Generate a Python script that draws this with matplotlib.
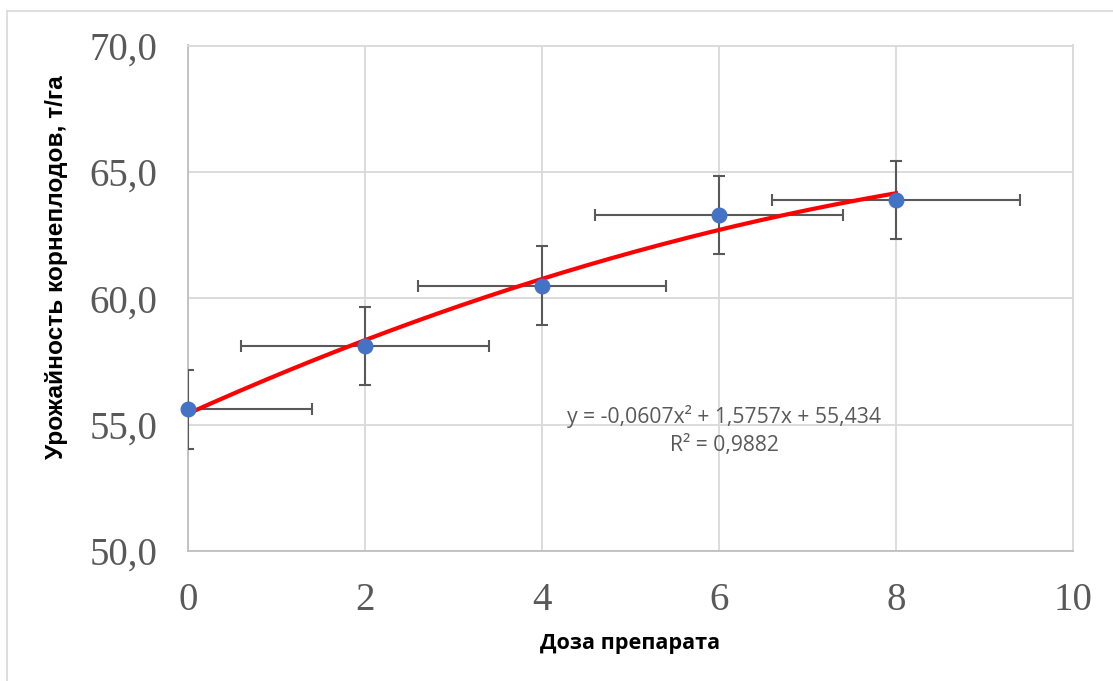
import numpy as np
import matplotlib
matplotlib.use("Agg")
import matplotlib.pyplot as plt
from matplotlib.lines import Line2D

# data
dose = [0, 2, 4, 6, 8]
yield_t = [55.6, 58.1, 60.5, 63.3, 63.9]
x_err = [1.4, 1.4, 1.4, 1.4, 1.4]
y_err = [1.55, 1.55, 1.55, 1.55, 1.55]
# trend line coefficients from the label
coef = [-0.0607, 1.5757, 55.434]
r2 = 0.9882

x_ticks = [0, 2, 4, 6, 8, 10]
y_ticks = [50, 55, 60, 65, 70]

W, H = 1113, 681
fig = plt.figure(figsize=(W / 100, H / 100), dpi=100)
ax = fig.add_axes([188 / W, 1 - 551 / H, (1073 - 188) / W, (551 - 45.5) / H])

# outer chart border (left and top only visible)
fig.add_artist(Line2D([7 / W, 7 / W], [0, 1 - 11 / H], transform=fig.transFigure,
                      color="#d9d9d9", lw=1.2))
fig.add_artist(Line2D([7 / W, 1], [1 - 11 / H, 1 - 11 / H], transform=fig.transFigure,
                      color="#d9d9d9", lw=1.2))

ax.set_xlim(0, 10)
ax.set_ylim(50, 70)
ax.set_xticks(x_ticks)
ax.set_yticks(y_ticks)
ax.set_xticklabels([str(t) for t in x_ticks])
ax.set_yticklabels([f"{t:.1f}".replace(".", ",") for t in y_ticks])
ax.grid(True, color="#d9d9d9", lw=1.3)
ax.set_axisbelow(True)
for s in ["top", "right"]:
    ax.spines[s].set_color("#d9d9d9")
    ax.spines[s].set_linewidth(1.3)
for s in ["bottom", "left"]:
    ax.spines[s].set_color("#bfbfbf")
    ax.spines[s].set_linewidth(1.3)
ax.tick_params(length=0, colors="#595959")
ax.tick_params(axis="y", pad=22)
ax.tick_params(axis="x", pad=22)
for lab in ax.get_yticklabels() + ax.get_xticklabels():
    lab.set_fontfamily("Liberation Serif")
    lab.set_fontsize(28)

ax.errorbar(dose, yield_t, xerr=x_err, yerr=y_err, fmt="none", ecolor="#595959",
            elinewidth=1.5, capsize=4, capthick=1.5, zorder=3)

xs = np.linspace(0, 8, 200)
ax.plot(xs, np.polyval(coef, xs), color="#ff0000", lw=3, zorder=4)
ax.scatter(dose, yield_t, s=110, color="#4472c4", zorder=5, clip_on=False)

fig.text(724 / W, 1 - 416 / H, "y = -0,0607x² + 1,5757x + 55,434", fontsize=15.2,
         family="Open Sans", color="#595959", ha="center", va="center")
fig.text(724 / W, 1 - 446 / H, f"R² = {r2}".replace(".", ","), fontsize=15.2,
         family="Open Sans", color="#595959", ha="center", va="center")

fig.text(630 / W, 1 - 643 / H, "Доза препарата", fontsize=15.6, family="Open Sans",
         weight="bold", ha="center", va="center")
fig.text(57 / W, 1 - 267 / H, "Урожайность корнеплодов, т/га", fontsize=17.6,
         family="Liberation Sans", weight="bold", rotation=90, ha="center", va="center")

fig.savefig("out.png", dpi=100)
